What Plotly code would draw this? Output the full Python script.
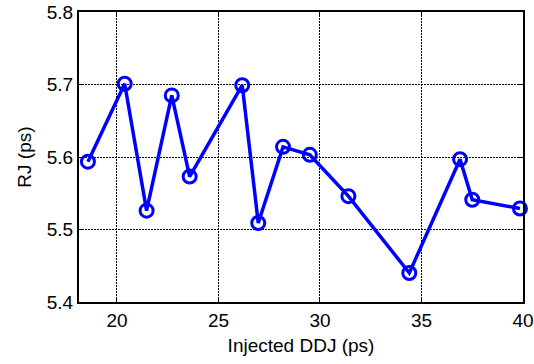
import plotly.graph_objects as go

ddj = [18.57, 20.38, 21.46, 22.7, 23.58, 26.17, 26.96, 28.18, 29.5, 31.4, 34.4, 36.9, 37.5, 39.85]
rj = [5.5935, 5.701, 5.526, 5.685, 5.573, 5.699, 5.509, 5.614, 5.603, 5.546, 5.440, 5.597, 5.541, 5.529]

x_ticks = [20, 25, 30, 35, 40]
y_ticks = [5.4, 5.5, 5.6, 5.7, 5.8]

FONT = "Liberation Sans, Arial, sans-serif"

fig = go.Figure()
fig.add_trace(go.Scatter(
    x=ddj, y=rj, mode="lines+markers",
    line=dict(color="#0000ff", width=3.5),
    marker=dict(symbol="circle-open", size=13, color="#0000ff", line=dict(width=3, color="#0000ff")),
    showlegend=False, cliponaxis=False,
))

axis_common = dict(
    showline=True, linecolor="black", linewidth=2, mirror="ticks",
    ticks="inside", ticklen=4, tickcolor="black", tickwidth=1,
    showgrid=True, gridcolor="black", gridwidth=1, griddash="2px,1px",
    zeroline=False, automargin=False,
    tickfont=dict(family=FONT, size=19, color="black"),
)

fig.update_xaxes(range=[18.13, 40], tickvals=x_ticks, ticktext=[str(v) for v in x_ticks],
                 title=dict(text="Injected DDJ (ps)", font=dict(family=FONT, size=19, color="black"), standoff=9),
                 **axis_common)
fig.update_yaxes(range=[5.4, 5.8], tickvals=y_ticks, ticktext=["%.1f" % v for v in y_ticks],
                 title=dict(text="RJ (ps)", font=dict(family=FONT, size=19, color="black"), standoff=10),
                 **axis_common)

fig.update_layout(
    width=534, height=364,
    margin=dict(l=79, r=11, t=12, b=62),
    paper_bgcolor="white", plot_bgcolor="white",
)

fig.write_html("out.html", config={"displayModeBar": False},
               post_script="document.body.style.margin='0';document.body.style.overflow='hidden';")
